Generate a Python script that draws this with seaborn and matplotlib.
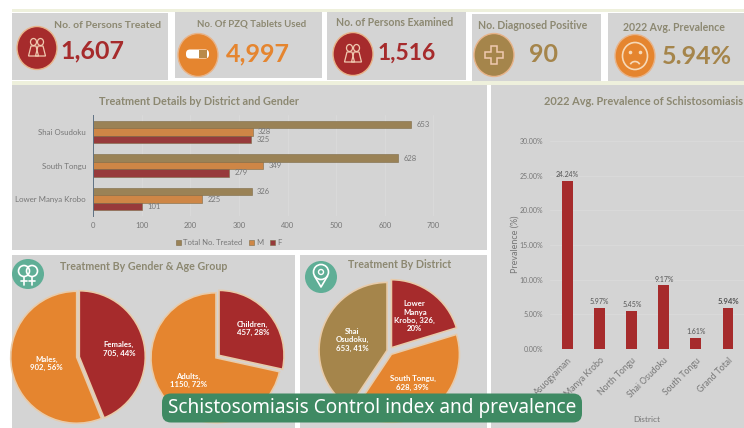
import matplotlib
matplotlib.use('Agg')
import matplotlib.pyplot as plt
from matplotlib.patches import Rectangle, Ellipse, FancyBboxPatch, Arc, Polygon
import pandas as pd
import seaborn as sns

# KPI cards
kpi_titles = ['No. of Persons Treated', 'No. Of PZQ Tablets Used', 'No. of Persons Examined',
              'No. Diagnosed Positive', '2022 Avg. Prevalence']
kpi_values = ['1,607', '4,997', '1,516', '90', '5.94%']

# treatment by district and gender
districts = ['Shai Osudoku', 'South Tongu', 'Lower Manya Krobo']
total_treated = [653, 628, 326]
male_treated = [328, 349, 225]
female_treated = [325, 279, 101]

# prevalence by district
prev_districts = ['Asuogyaman', 'Lower Manya Krobo', 'North Tongu', 'Shai Osudoku', 'South Tongu', 'Grand Total']
prevalence = [24.24, 5.97, 5.45, 9.17, 1.61, 5.94]

# pies
gender_labels = ['Females,\n705, 44%', 'Males,\n902, 56%']
gender_values = [705, 902]
age_labels = ['Children,\n457, 28%', 'Adults,\n1150, 72%']
age_values = [457, 1150]
pie_district_labels = ['Lower\nManya\nKrobo, 326,\n20%', 'South Tongu,\n628, 39%', 'Shai\nOsudoku,\n653, 41%']
pie_district_values = [326, 628, 653]

RED = '#A62B2C'
ORANGE = '#E5852F'
TAN = '#A5854B'
PANEL = '#D4D4D4'
TEAL = '#5FAE96'
TITLE = '#8C8871'
GREY = '#777777'
W, H = 744, 428

sns.set_theme(style='white')
plt.rcParams['font.family'] = ['Lato', 'DejaVu Sans']

fig = plt.figure(figsize=(W / 100, H / 100), dpi=100, facecolor='white')


def px_axes(x0, y0, x1, y1, **kw):
    # axes from pixel box, y counted from the top
    return fig.add_axes([x0 / W, 1 - y1 / H, (x1 - x0) / W, (y1 - y0) / H], **kw)


bg = px_axes(0, 0, W, H, zorder=0)
bg.set_xlim(0, W)
bg.set_ylim(H, 0)
bg.axis('off')

fg = px_axes(0, 0, W, H, zorder=10)
fg.set_xlim(0, W)
fg.set_ylim(H, 0)
fg.axis('off')
fg.patch.set_alpha(0)

# background panels
bg.add_patch(Rectangle((12, 9), 732, 3, color='#EEF0DC', lw=0))
bg.add_patch(Rectangle((12, 81), 732, 4, color='#EEF0DC', lw=0))
panels = [(12, 13, 156, 67), (175, 12, 147, 66), (327, 12, 139, 68), (472, 14, 129, 67), (608, 13, 136, 68),
          (12, 85, 475, 165), (491, 85, 253, 343), (12, 255, 283, 173), (300, 255, 187, 173)]
for x, y, w, h in panels:
    bg.add_patch(Rectangle((x, y), w, h, color=PANEL, lw=0))

# KPI cards
title_x = [108, 252, 395, 533, 674]
title_y = [25, 24, 22, 25, 27]
title_size = [7.5, 6.9, 7.6, 7.6, 7.6]
value_x = [92, 258, 407, 543, 697]
value_y = [51, 54, 53, 54, 56]
value_col = [RED, ORANGE, RED, TAN, TAN]
value_size = [18, 18, 16.5, 18, 18]
icon_x = [37, 198, 353, 494, 635]
icon_y = [48, 55, 54, 55, 56]
icon_col = [RED, ORANGE, RED, TAN, ORANGE]
for i in range(5):
    fg.text(title_x[i], title_y[i], kpi_titles[i], color=TITLE, fontsize=title_size[i], fontweight='bold', ha='center', va='center')
    fg.text(value_x[i], value_y[i], kpi_values[i], color=value_col[i], fontsize=value_size[i], fontweight='bold', ha='center', va='center')
    fg.add_patch(Ellipse((icon_x[i], icon_y[i]), 40, 43, facecolor=icon_col[i], edgecolor='#E8B48A', lw=1))


def person(cx, cy, col='#F0C9B0'):
    for dx in [-3.5, 3.5]:
        fg.add_patch(Ellipse((cx + dx, cy - 6), 6, 7, fill=False, edgecolor=col, lw=0.9))
        fg.add_patch(Polygon([(cx + dx - 2.5, cy - 2), (cx + dx - 5, cy + 8), (cx + dx + 5, cy + 8), (cx + dx + 2.5, cy - 2)],
                             fill=False, edgecolor=col, lw=0.9))


person(37, 48)
person(353, 54)
# pill
fg.add_patch(FancyBboxPatch((186, 49.5), 23, 9, boxstyle='round,pad=0,rounding_size=4', facecolor='white', edgecolor='none'))
fg.add_patch(Rectangle((199, 50), 8, 8, color='#B98A4A', lw=0))
# plus
fg.add_patch(Polygon([(491, 46), (497, 46), (497, 52), (503, 52), (503, 58), (497, 58), (497, 64), (491, 64), (491, 58), (485, 58), (485, 52), (491, 52)],
                     fill=False, edgecolor='#F0C9B0', lw=1.1))
# sad face
fg.add_patch(Ellipse((635, 56), 25, 27, fill=False, edgecolor='#F6D9B8', lw=1.2))
fg.plot([630, 640], [52, 52], ls='', marker='o', ms=1.6, color='#F6D9B8')
fg.add_patch(Arc((635, 66), 10, 9, theta1=200, theta2=340, edgecolor='#F6D9B8', lw=1.2))

# teal icons
fg.add_patch(Ellipse((28, 274), 32, 30, color=TEAL, lw=0))
fg.add_patch(Ellipse((321, 277), 32, 32, color=TEAL, lw=0))
for cx in [24, 32]:
    fg.add_patch(Ellipse((cx, 271), 11, 11, fill=False, edgecolor='white', lw=1.2))
    fg.plot([cx, cx], [277, 285], color='white', lw=1.2)
    fg.plot([cx - 3, cx + 3], [281, 281], color='white', lw=1.2)
fg.add_patch(Ellipse((321, 272), 15, 15, fill=False, edgecolor='white', lw=1.2))
fg.add_patch(Ellipse((321, 272), 5, 5, fill=False, edgecolor='white', lw=1))
fg.plot([314.5, 321, 327.5], [276, 287, 276], color='white', lw=1.2)

# panel titles
fg.text(199, 101, 'Treatment Details by District and Gender', color=TITLE, fontsize=7.8, fontweight='bold', ha='center', va='center')
fg.text(643, 101, '2022 Avg. Prevalence of Schistosomiasis', color=TITLE, fontsize=7.9, fontweight='bold', ha='center', va='center')
fg.text(144, 267, 'Treatment By Gender & Age Group', color=TITLE, fontsize=7.7, fontweight='bold', ha='center', va='center')
fg.text(400, 264, 'Treatment By District', color=TITLE, fontsize=7.7, fontweight='bold', ha='center', va='center')

# horizontal bars
bar_df = pd.DataFrame({'District': districts, 'Total No. Treated': total_treated, 'M': male_treated, 'F': female_treated})
bar_long = bar_df.melt(id_vars='District', var_name='Measure', value_name='Count')
ax = px_axes(93, 115, 487, 216, zorder=2)
ax.patch.set_alpha(0)
sns.barplot(data=bar_long, y='District', x='Count', hue='Measure', order=districts,
            palette=[TAN, ORANGE, RED], width=0.66, ax=ax, edgecolor='#7E6A45', linewidth=0.4)
ax.set_xlim(0, 810)
ax.set_xticks(range(0, 701, 100))
ax.grid(axis='x', color='#DCDCDC', lw=0.5)
ax.set_axisbelow(True)
for c in ax.containers:
    ax.bar_label(c, padding=4, fontsize=5.5, color=GREY)
ax.tick_params(axis='y', length=0, labelsize=5.7, labelcolor=GREY, pad=5)
ax.tick_params(axis='x', length=0, labelsize=5.5, labelcolor=GREY, pad=4)
ax.set_xlabel('')
ax.set_ylabel('')
sns.despine(ax=ax, left=False, bottom=True)
ax.spines['left'].set_color('#5F7183')
ax.spines['left'].set_linewidth(0.7)
leg = ax.legend(loc='upper center', bbox_to_anchor=(0.345, -0.16), ncol=3, frameon=False, fontsize=5.5,
                handlelength=0.6, handleheight=0.6, handletextpad=0.3, columnspacing=0.9, title=None)
for t in leg.get_texts():
    t.set_color(GREY)

# vertical bars
prev_df = pd.DataFrame({'District': prev_districts, 'Prevalence': prevalence})
ax2 = px_axes(550, 141, 744, 349, zorder=2)
ax2.patch.set_alpha(0)
sns.barplot(data=prev_df, x='District', y='Prevalence', color=RED, saturation=1, width=0.34, linewidth=0, ax=ax2)
ax2.set_xlim(-0.55, 5.5)
ax2.set_ylim(0, 30)
ax2.set_yticks(range(0, 31, 5))
ax2.set_yticklabels([f'{v:.2f}%' for v in range(0, 31, 5)])
ax2.grid(axis='y', color='#DCDCDC', lw=0.5)
ax2.set_axisbelow(True)
lbls = ax2.bar_label(ax2.containers[0], labels=[f'{v:.2f}%' for v in prevalence], padding=2, fontsize=5, color='#555555')
lbls[-1].set_fontweight('bold')
lbls[-1].set_fontsize(5.6)
ax2.tick_params(axis='y', length=0, labelsize=5, labelcolor=GREY, pad=5)
ax2.tick_params(axis='x', length=0, labelsize=6.2, labelcolor=GREY, pad=5)
plt.setp(ax2.get_xticklabels(), rotation=45, ha='right', rotation_mode='anchor')
ax2.set_xlabel('')
ax2.set_ylabel('')
sns.despine(ax=ax2, left=True, bottom=True)
fg.text(515, 244, 'Prevalence (%)', rotation=90, color=GREY, fontsize=6.5, ha='center', va='center')
fg.text(647, 420, 'District', color=GREY, fontsize=6, ha='center', va='center')


def draw_pie(cx, cy, r, values, labels, colors, explode, dist, start=90):
    m = r * 1.25
    pa = px_axes(cx - m, cy - m, cx + m, cy + m, zorder=3)
    pa.patch.set_alpha(0)
    _, texts = pa.pie(values, labels=labels, colors=colors, explode=explode, startangle=start, counterclock=False,
                      labeldistance=1, radius=1, wedgeprops={'edgecolor': '#E8CBAA', 'linewidth': 1.2},
                      textprops={'color': 'white', 'fontsize': 5.6, 'fontweight': 'bold'})
    for t, d in zip(texts, dist):
        tx, ty = t.get_position()
        t.set_position((tx * d, ty * d))
        t.set_ha('center')
        t.set_va('center')
    pa.set_xlim(-1.25, 1.25)
    pa.set_ylim(-1.25, 1.25)


draw_pie(78, 357, 66, gender_values, gender_labels, [RED, ORANGE], [0.02, 0.02], [0.62, 0.48])
draw_pie(217, 357, 65, age_values, age_labels, [RED, ORANGE], [0.04, 0.02], [0.68, 0.56])
draw_pie(389, 351, 68, pie_district_values, pie_district_labels, [RED, ORANGE, TAN], [0.06, 0.06, 0.03], [0.6, 0.55, 0.55])

# caption banner
fg.add_patch(FancyBboxPatch((162, 393.5), 420, 29, boxstyle='round,pad=0,rounding_size=9', facecolor='#3F8A63', edgecolor='none'))
fg.text(372, 408, 'Schistosomiasis Control index and prevalence', color='white', fontsize=13.7, family='Noto Sans', ha='center', va='center')

fig.savefig('out.png', dpi=100)
